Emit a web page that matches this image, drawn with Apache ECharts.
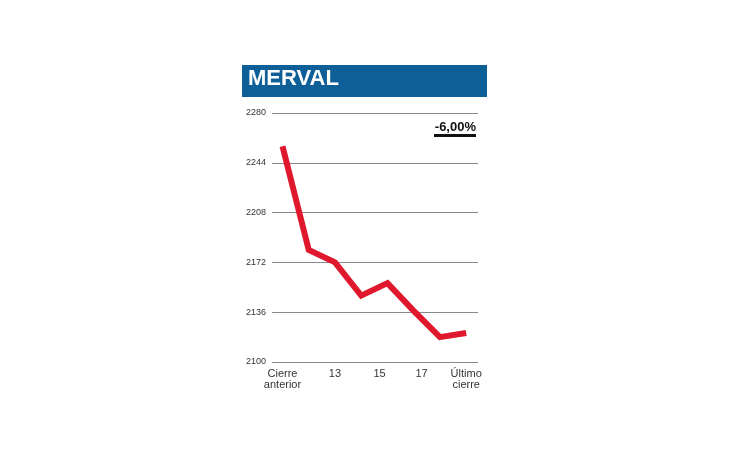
<!DOCTYPE html>
<html>
<head>
<meta charset="utf-8">
<script src="https://cdn.jsdelivr.net/npm/echarts@6/dist/echarts.min.js"></script>
<style>
  html, body { margin: 0; padding: 0; background: #fff; }
  #chart { width: 730px; height: 460px; }
</style>
</head>
<body>
<div id="chart"></div>
<script>
// MERVAL daily closes
const values = [2256, 2181, 2172, 2148, 2157, 2137, 2118, 2121];
const xLabels = ['Cierre\nanterior', '13', '15', '17', 'Último\ncierre'];
const xLabelPos = [0, 2, 3.7, 5.3, 7];
const yBase = 2100;
const yTop = 2280;
const yStep = 36;
const changeText = '-6,00%';

const font = '"Liberation Sans Narrow", "Liberation Sans", Arial, sans-serif';

const myChart = echarts.init(document.getElementById('chart'));

myChart.setOption({
    animation: false,
    backgroundColor: '#fff',
    grid: { left: 272, right: 252, top: 113, bottom: 98 },
    xAxis: {
        type: 'value',
        min: -0.4,
        max: 7.45,
        splitLine: { show: false },
        axisLine: { show: false },
        axisTick: { show: false },
        axisLabel: {
            customValues: xLabelPos,
            formatter: v => xLabels[xLabelPos.indexOf(v)] || '',
            color: '#333',
            fontFamily: font,
            fontSize: 11,
            lineHeight: 11,
            margin: 6
        }
    },
    yAxis: {
        type: 'value',
        min: 0,
        max: yTop - yBase,
        interval: yStep,
        axisLine: { show: false },
        axisTick: { show: false },
        splitLine: { lineStyle: { color: '#8a8a8a', width: 1 } },
        axisLabel: {
            formatter: v => String(v + yBase),
            color: '#333',
            fontFamily: font,
            fontSize: 9,
            align: 'left',
            margin: 26
        }
    },
    series: [{
        type: 'line',
        data: values.map((v, i) => [i, v - yBase]),
        showSymbol: false,
        lineStyle: { color: '#e0182d', width: 6, join: 'miter' }
    }],
    graphic: [
        { type: 'rect', shape: { x: 242, y: 65, width: 245, height: 32 },
          style: { fill: '#0e5f98' } },
        { type: 'text', left: 248, top: 68,
          style: { text: 'MERVAL', fill: '#fff', font: 'bold 22px ' + font } },
        { type: 'text', x: 476, y: 121,
          style: { text: changeText, fill: '#111', font: 'bold 13px ' + font, align: 'right' } },
        { type: 'rect', shape: { x: 434, y: 134, width: 42, height: 3 },
          style: { fill: '#111' } }
    ]
});
</script>
</body>
</html>
